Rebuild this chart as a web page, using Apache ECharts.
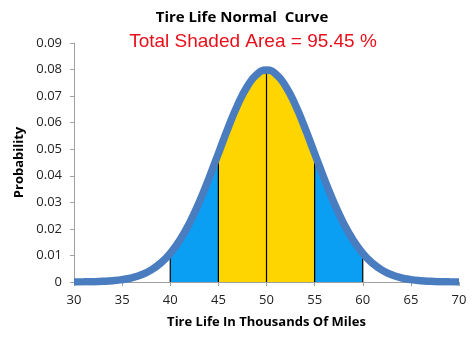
<!DOCTYPE html>
<html><head><meta charset="utf-8">
<script src="https://cdn.jsdelivr.net/npm/echarts@6/dist/echarts.min.js"></script>
<style>html,body{margin:0;padding:0;background:#fff}#c{width:474px;height:341px}</style>
</head><body><div id="c"></div>
<script>
var titleText = 'Tire Life Normal  Curve';
var subText = 'Total Shaded Area = 95.45 %';
var xTicks = [30,35,40,45,50,55,60,65,70];
var yTicks = [0,0.01,0.02,0.03,0.04,0.05,0.06,0.07,0.08,0.09];
var miles = [30,31,32,33,34,35,36,37,38,39,40,41,42,43,44,45,46,47,48,49,50,51,52,53,54,55,56,57,58,59,60,61,62,63,64,65,66,67,68,69,70];
var prob = [0.00003,0.00006,0.00012,0.00025,0.00048,0.00089,0.00158,0.00272,0.00448,0.00709,0.01080,0.01579,0.02218,0.02995,0.03884,0.04839,0.05794,0.06664,0.07365,0.07821,0.07979,0.07821,0.07365,0.06664,0.05794,0.04839,0.03884,0.02995,0.02218,0.01579,0.01080,0.00709,0.00448,0.00272,0.00158,0.00089,0.00048,0.00025,0.00012,0.00006,0.00003];
var bounds = [40,45,50,55,60];
var shadeBands = [[40,45,'#0a9ff2'],[45,55,'#ffd500'],[55,60,'#0a9ff2']];

function pts(a,b){var r=[];for(var i=0;i<miles.length;i++){if(miles[i]>=a&&miles[i]<=b)r.push([miles[i],prob[i]]);}return r;}
var series = [];
shadeBands.forEach(function(b){
  series.push({type:'line',data:pts(b[0],b[1]),smooth:true,symbol:'none',lineStyle:{width:0},areaStyle:{color:b[2],opacity:1},z:1,silent:true});
});
bounds.forEach(function(x){
  var y = prob[miles.indexOf(x)];
  series.push({type:'line',data:[[x,0],[x,y]],symbol:'none',lineStyle:{color:'#000',width:1.2},z:3,silent:true});
});
series.push({type:'line',data:miles.map(function(m,i){return [m,prob[i]];}),smooth:true,symbol:'none',lineStyle:{color:'#4a7cc0',width:7.5},z:5});

var chart = echarts.init(document.getElementById('c'));
chart.setOption({
  animation:false,
  title:[
    {text:titleText,left:237,top:5,textAlign:'center',textStyle:{fontFamily:'Open Sans',fontWeight:'bold',fontSize:15,color:'#000'}},
    {text:subText,left:248,top:27,textAlign:'center',textStyle:{fontFamily:'Liberation Sans',fontWeight:'normal',fontSize:19,color:'#e8101a'}}
  ],
  grid:{left:74,right:15,top:43,bottom:59},
  xAxis:{type:'value',min:30,max:70,interval:5,
    name:'Tire Life In Thousands Of Miles',nameLocation:'middle',nameGap:34,
    nameTextStyle:{fontFamily:'Open Sans',fontWeight:'bold',fontSize:13,color:'#000'},
    axisLine:{lineStyle:{color:'#a0a0a0'}},axisTick:{show:true,length:4,lineStyle:{color:'#a0a0a0'}},
    axisLabel:{fontFamily:'Open Sans',fontSize:13,color:'#222',margin:12},splitLine:{show:false}},
  yAxis:{type:'value',min:0,max:0.09,interval:0.01,
    name:'Probability',nameLocation:'middle',nameGap:48,
    nameTextStyle:{fontFamily:'Open Sans',fontWeight:'bold',fontSize:13,color:'#000'},
    axisLine:{show:true,lineStyle:{color:'#a0a0a0'}},axisTick:{show:true,length:4,lineStyle:{color:'#a0a0a0'}},
    axisLabel:{fontFamily:'Open Sans',fontSize:13,color:'#222',margin:12,formatter:function(v){return v===0?'0':v.toFixed(2);}},splitLine:{show:false}},
  series:series
});
</script></body></html>
